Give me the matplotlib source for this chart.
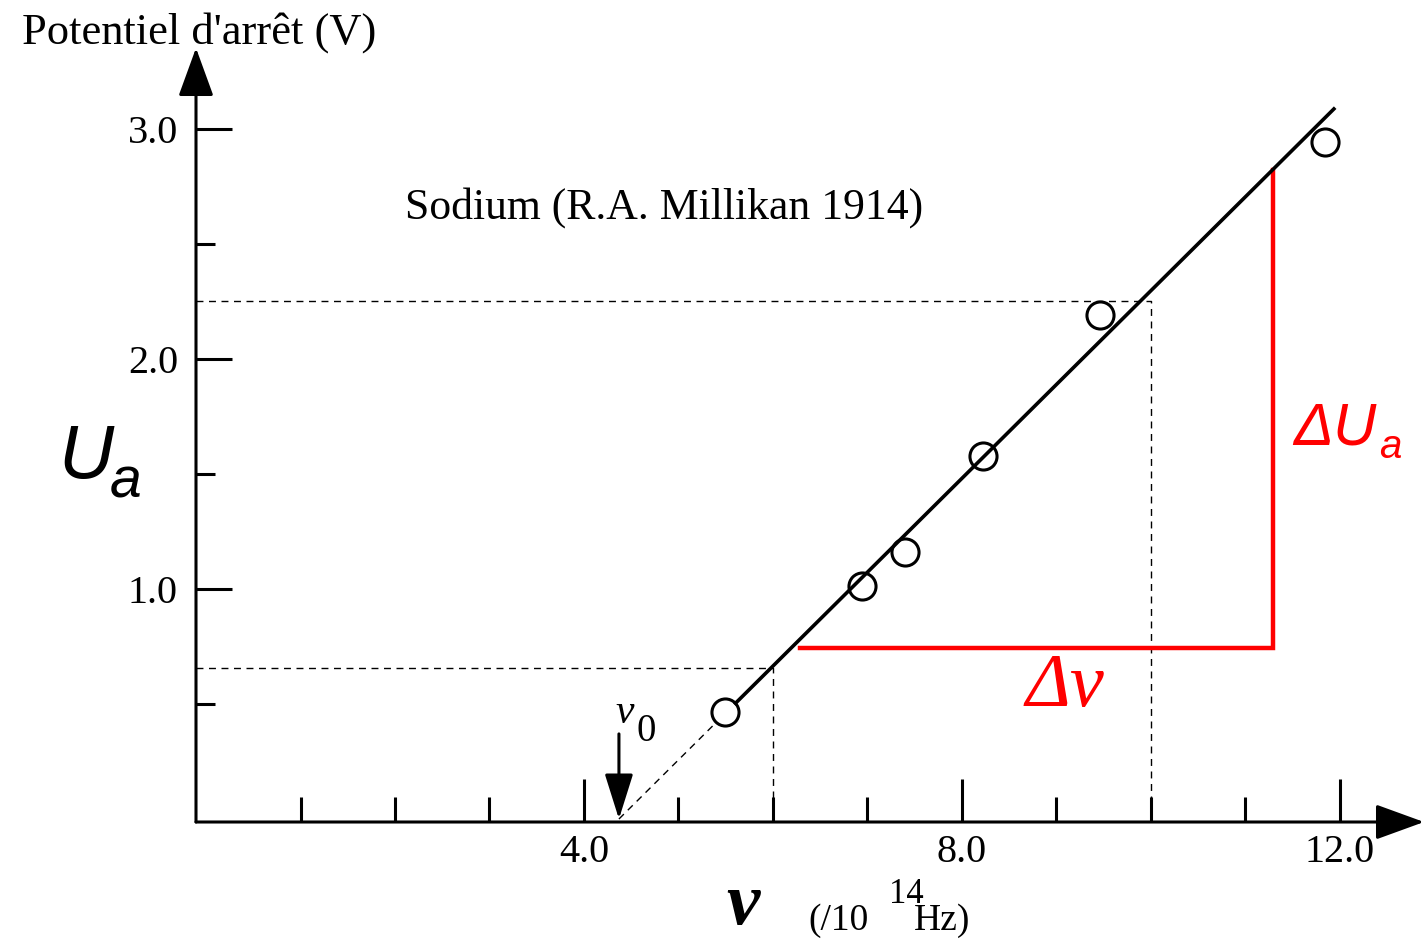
import numpy as np
import matplotlib
matplotlib.use("Agg")
import matplotlib.pyplot as plt

# Millikan 1914, sodium: frequency (10^14 Hz) vs stopping potential (V)
freq = [5.49, 6.94, 7.40, 8.22, 9.46, 11.84]
volts = [0.465, 1.013, 1.161, 1.578, 2.191, 2.943]

nu0 = 4.37          # threshold frequency
slope = 0.408       # V per 10^14 Hz
fit_x_end = 11.95
fit_x_start = 5.59  # solid part starts at first circle edge
dash_x_end = 5.39

guide_lo = (6.0, 0.657)
guide_hi = (10.0, 2.25)
delta_x = [6.29, 11.29]
delta_y = [0.743, 2.82]

xmajor = [4, 8, 12]
xmajor_labels = ["4.0", "8.0", "12.0"]
xminor = [1, 2, 3, 5, 6, 7, 9, 10, 11]
ymajor = [1, 2, 3]
ymajor_labels = ["1.0", "2.0", "3.0"]
yminor = [0.5, 1.5, 2.5]

W, H = 1424, 940
serif = "Liberation Serif"
sans = "Liberation Sans"

fig = plt.figure(figsize=(W / 100, H / 100), dpi=100)
ax = fig.add_axes([196 / W, (H - 822) / H, (W - 196) / W, (822 - 48) / H])
ax.set_xlim(-0.106, 12.89)
ax.set_ylim(-0.013, 3.352)
for s in ax.spines.values():
    s.set_visible(False)


def px(x, y):
    return x / W, 1 - y / H


# axes with arrow heads
arrow_kw = dict(arrowstyle="-|>,head_length=0.55,head_width=0.2", lw=2.2,
                color="black", shrinkA=0, shrinkB=0, mutation_scale=55)
ax.annotate("", xy=(0, 1), xytext=(0, 0), xycoords="axes fraction",
            arrowprops=arrow_kw, annotation_clip=False)
ax.annotate("", xy=(1, 0), xytext=(0, 0), xycoords="axes fraction",
            arrowprops=arrow_kw, annotation_clip=False)

ax.set_xticks(xmajor)
ax.set_xticklabels(xmajor_labels)
ax.set_xticks(xminor, minor=True)
ax.set_yticks(ymajor)
ax.set_yticklabels(ymajor_labels)
ax.set_yticks(yminor, minor=True)
ax.tick_params(axis="x", which="major", direction="in", length=31, width=2.2, pad=9)
ax.tick_params(axis="x", which="minor", direction="in", length=18, width=2.2)
ax.tick_params(axis="y", which="major", direction="in", length=26, width=2.2, pad=13)
ax.tick_params(axis="y", which="minor", direction="in", length=14, width=2.2)
for lab in ax.get_xticklabels() + ax.get_yticklabels():
    lab.set_fontfamily(serif)
    lab.set_fontsize(29)

# guide lines
dkw = dict(color="black", lw=1.0, ls=(0, (5, 4)))
ax.plot([-0.106, guide_lo[0], guide_lo[0]], [guide_lo[1], guide_lo[1], 0], **dkw)
ax.plot([-0.106, guide_hi[0], guide_hi[0]], [guide_hi[1], guide_hi[1], 0], **dkw)

# fit line
ax.plot([nu0, dash_x_end], [0, slope * (dash_x_end - nu0)], **dkw)
ax.plot([fit_x_start, fit_x_end],
        [slope * (fit_x_start - nu0), slope * (fit_x_end - nu0)],
        color="black", lw=2.6, solid_capstyle="butt", zorder=4)

ax.plot(freq, volts, "o", ms=19.5, mfc="white", mec="black", mew=2.2, zorder=3)

# red slope triangle
ax.plot([delta_x[0], delta_x[1], delta_x[1]], [delta_y[0], delta_y[0], delta_y[1]],
        color="red", lw=3.2, solid_joinstyle="miter", zorder=2)

# nu0 arrow
ax.annotate("", xy=(nu0, 0), xytext=(nu0, 0.37),
            arrowprops=dict(arrowstyle="-|>,head_length=0.7,head_width=0.22",
                            lw=2.2, color="black", shrinkA=0, shrinkB=0,
                            mutation_scale=40))

# texts
fig.text(*px(22, 33), "Potentiel d'arrêt (V)", family=serif, size=32,
         ha="left", va="center")
fig.text(*px(405, 208), "Sodium (R.A. Millikan 1914)", family=serif, size=31.5,
         ha="left", va="center")
fig.text(*px(58, 478), "U", family=sans, style="italic", size=55,
         ha="left", va="baseline")
fig.text(*px(110, 497), "a", family=sans, style="italic", size=41,
         ha="left", va="baseline")
fig.text(*px(1293, 445), "ΔU", family=sans, style="italic", size=43,
         color="red", ha="left", va="baseline")
fig.text(*px(1379, 458), "a", family=sans, style="italic", size=29,
         color="red", ha="left", va="baseline")
fig.text(*px(1026, 706), "Δν", family=serif, style="italic", size=55,
         color="red", ha="left", va="baseline")
fig.text(*px(726, 924), "ν", family=serif, style="italic", weight="bold",
         size=54, ha="left", va="baseline")
fig.text(*px(808, 930), "(/10", family=serif, size=27, ha="left", va="baseline")
fig.text(*px(889, 903), "14", family=serif, size=25, ha="left", va="baseline")
fig.text(*px(914, 930), "Hz)", family=serif, size=27, ha="left", va="baseline")
fig.text(*px(615, 723), "ν", family=serif, style="italic", size=30,
         ha="left", va="baseline")
fig.text(*px(636, 741), "0", family=serif, size=28, ha="left", va="baseline")

fig.savefig("out.png", dpi=100)
